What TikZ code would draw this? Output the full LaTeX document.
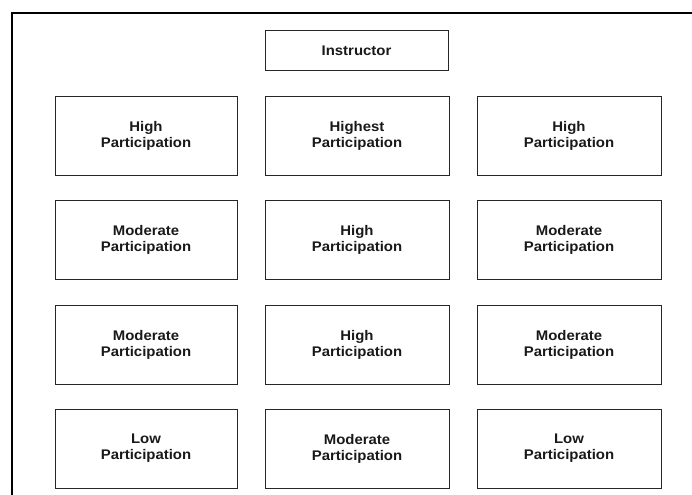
\documentclass[tikz,border=0pt]{standalone}
\usepackage{fontspec}
\setmainfont{Liberation Sans}[FakeStretch=1.07]
\begin{document}
\begin{tikzpicture}[x=1bp,y=-1bp,
  cell/.style={draw=black!85, line width=0.9bp, minimum width=182bp, minimum height=79bp,
    inner sep=0pt, align=center, font=\fontsize{14}{16}\selectfont\bfseries, text=black!90},
  frame/.style={line width=2.2bp, black}]
\useasboundingbox (0,0) rectangle (692,495);
\draw[frame] (12,496) -- (12,13) -- (693,13);
\node[cell, minimum width=183bp, minimum height=40bp] (instr) at (356.5,50.5) {Instructor};
% columns centres: 146, 357, 569 ; rows centres: 135.5, 239.5, 344.5, 448.5
\node[cell] (r1c1) at (146,135.5) {High\\Participation};
\node[cell, minimum width=184bp] (r1c2) at (357,135.5) {Highest\\Participation};
\node[cell, minimum width=184bp] (r1c3) at (569,135.5) {High\\Participation};
\node[cell] (r2c1) at (146,239.5) {Moderate\\Participation};
\node[cell, minimum width=184bp] (r2c2) at (357,239.5) {High\\Participation};
\node[cell, minimum width=184bp] (r2c3) at (569,239.5) {Moderate\\Participation};
\node[cell] (r3c1) at (146,344.5) {Moderate\\Participation};
\node[cell, minimum width=184bp] (r3c2) at (357,344.5) {High\\Participation};
\node[cell, minimum width=184bp] (r3c3) at (569,344.5) {Moderate\\Participation};
\node[cell] (r4c1) at (146,448.5) {Low\\Participation};
\node[cell, minimum width=184bp] (r4c2) at (357,448.5) {Moderate\\Participation};
\node[cell, minimum width=184bp] (r4c3) at (569,448.5) {Low\\Participation};
\end{tikzpicture}
\end{document}
